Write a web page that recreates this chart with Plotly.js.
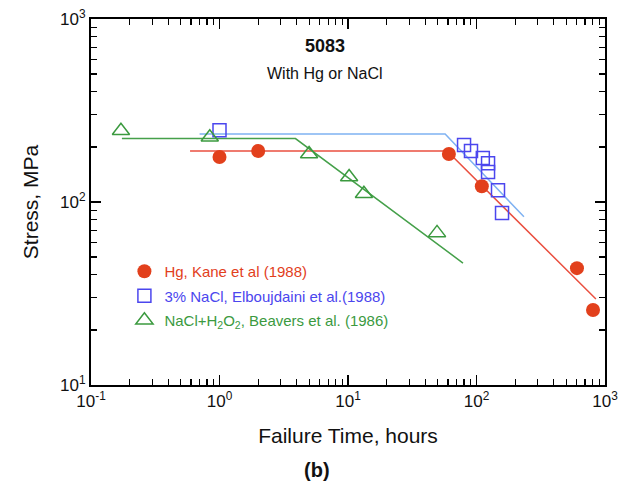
<!DOCTYPE html>
<html>
<head>
<meta charset="utf-8">
<script src="https://cdn.plot.ly/plotly-3.0.1.min.js"></script>
<style>html,body{margin:0;padding:0;background:#fff;}#chart{width:620px;height:497px;}</style>
</head>
<body>
<div id="chart"></div>
<script>
// Stress vs. failure time for 5083 aluminium in Hg or NaCl environments
// Hg (Kane et al, 1988)
const hgTime = [1.0, 2.0, 61, 110, 605, 807];
const hgStress = [176, 190, 183, 122, 43.5, 25.7];
const hgFitTime = [0.59, 59, 850];
const hgFitStress = [190, 190, 29.5];

// 3% NaCl (Elboujdaini et al, 1988)
const naclTime = [1.0, 80, 90.6, 112, 123, 123, 147, 158];
const naclStress = [247, 205, 190, 174, 163, 146, 116, 87];
const naclFitTime = [0.70, 57, 234];
const naclFitStress = [235, 235, 83];

// NaCl + H2O2 (Beavers et al, 1986)
const h2o2Time = [0.171, 0.84, 4.98, 10.2, 13.3, 49.3];
const h2o2Stress = [245, 226, 183, 137, 111, 67.8];
const h2o2FitTime = [0.174, 3.9, 78.5];
const h2o2FitStress = [222, 222, 46.4];

const xTickVals = [0.1, 1, 10, 100, 1000];
const xTickText = ['10<sup>-1</sup>', '10<sup>0</sup>', '10<sup>1</sup>', '10<sup>2</sup>', '10<sup>3</sup>'];
const yTickVals = [10, 100, 1000];
const yTickText = ['10<sup>1</sup>', '10<sup>2</sup>', '10<sup>3</sup>'];

const RED = '#e2401c', RED_LINE = '#ea5040';
const BLUE = '#4b46ee', BLUE_LINE = '#7fb2f2';
const GREEN = '#3b9a3f', GREEN_LINE = '#45a04a';
const FONT = 'Liberation Sans, Arial, sans-serif';

// minor tick positions 2..9 within each decade
function minorTicks(lo, hi) {
  const out = [];
  for (let e = lo; e < hi; e++) {
    for (let d = 2; d <= 9; d++) out.push(d * Math.pow(10, e));
  }
  return out;
}

const traces = [
  {x: hgFitTime, y: hgFitStress, mode: 'lines', line: {color: RED_LINE, width: 1.5}, showlegend: false, hoverinfo: 'skip'},
  {x: naclFitTime, y: naclFitStress, mode: 'lines', line: {color: BLUE_LINE, width: 1.5}, showlegend: false, hoverinfo: 'skip'},
  {x: h2o2FitTime, y: h2o2FitStress, mode: 'lines', line: {color: GREEN_LINE, width: 1.5}, showlegend: false, hoverinfo: 'skip'},
  {x: hgTime, y: hgStress, mode: 'markers', legendgroup: 'hg',
   name: '<span style="color:' + RED + '">Hg, Kane et al (1988)</span>',
   marker: {symbol: 'circle', size: 14, color: RED}},
  {x: naclTime, y: naclStress, mode: 'markers', legendgroup: 'nacl',
   name: '<span style="color:' + BLUE + '">3% NaCl, Elboujdaini et al.(1988)</span>',
   marker: {symbol: 'square-open', size: 13, color: BLUE, line: {width: 1.5}}},
  {x: h2o2Time, y: h2o2Stress, mode: 'markers', legendgroup: 'h2o2',
   name: '<span style="color:' + GREEN + '">NaCl+H<sub>2</sub>O<sub>2</sub>, Beavers et al. (1986)</span>',
   marker: {symbol: 'triangle-up-open', size: 15, color: GREEN, line: {width: 1.5}}}
];

const axisCommon = {
  type: 'log',
  showgrid: false,
  showline: true,
  linecolor: '#000',
  linewidth: 2,
  mirror: 'allticks',
  ticks: 'inside',
  ticklen: 10,
  tickwidth: 1.5,
  tickcolor: '#000',
  tickmode: 'array',
  tickfont: {family: FONT, size: 17, color: '#111'}
};

const minorCommon = {tickmode: 'array', ticks: 'inside', ticklen: 6, tickwidth: 1.2, tickcolor: '#000'};

const layout = {
  width: 620,
  height: 497,
  margin: {l: 91, r: 15, t: 19, b: 112},
  font: {family: FONT, color: '#111'},
  xaxis: Object.assign({}, axisCommon, {
    range: [-1, 3],
    tickvals: xTickVals,
    ticktext: xTickText,
    minor: Object.assign({}, minorCommon, {tickvals: minorTicks(-1, 3)}),
    title: {text: 'Failure Time, hours', font: {size: 21, color: '#111'}, standoff: 18}
  }),
  yaxis: Object.assign({}, axisCommon, {
    range: [1, 3],
    tickvals: yTickVals,
    ticktext: yTickText,
    minor: Object.assign({}, minorCommon, {tickvals: minorTicks(1, 3)}),
    title: {text: 'Stress, MPa', font: {size: 21, color: '#111'}, standoff: 16}
  }),
  showlegend: true,
  legend: {
    x: 0.065, y: 0.355, xanchor: 'left', yanchor: 'top',
    bgcolor: 'rgba(0,0,0,0)',
    font: {size: 15},
    itemwidth: 30,
    tracegroupgap: 2
  },
  annotations: [
    {text: '<b>5083</b>', xref: 'paper', yref: 'paper', x: 0.455, y: 0.926, yanchor: 'middle', showarrow: false,
     font: {size: 18, color: '#111'}},
    {text: 'With Hg or NaCl', xref: 'paper', yref: 'paper', x: 0.455, y: 0.851, yanchor: 'middle', showarrow: false,
     font: {size: 16, color: '#111'}},
    {text: '<b>(b)</b>', xref: 'paper', yref: 'paper', x: 0.44, y: -0.232, yanchor: 'middle', showarrow: false,
     font: {size: 20, color: '#111'}}
  ]
};

Plotly.newPlot('chart', traces, layout, {staticPlot: true, displayModeBar: false});
</script>
</body>
</html>
